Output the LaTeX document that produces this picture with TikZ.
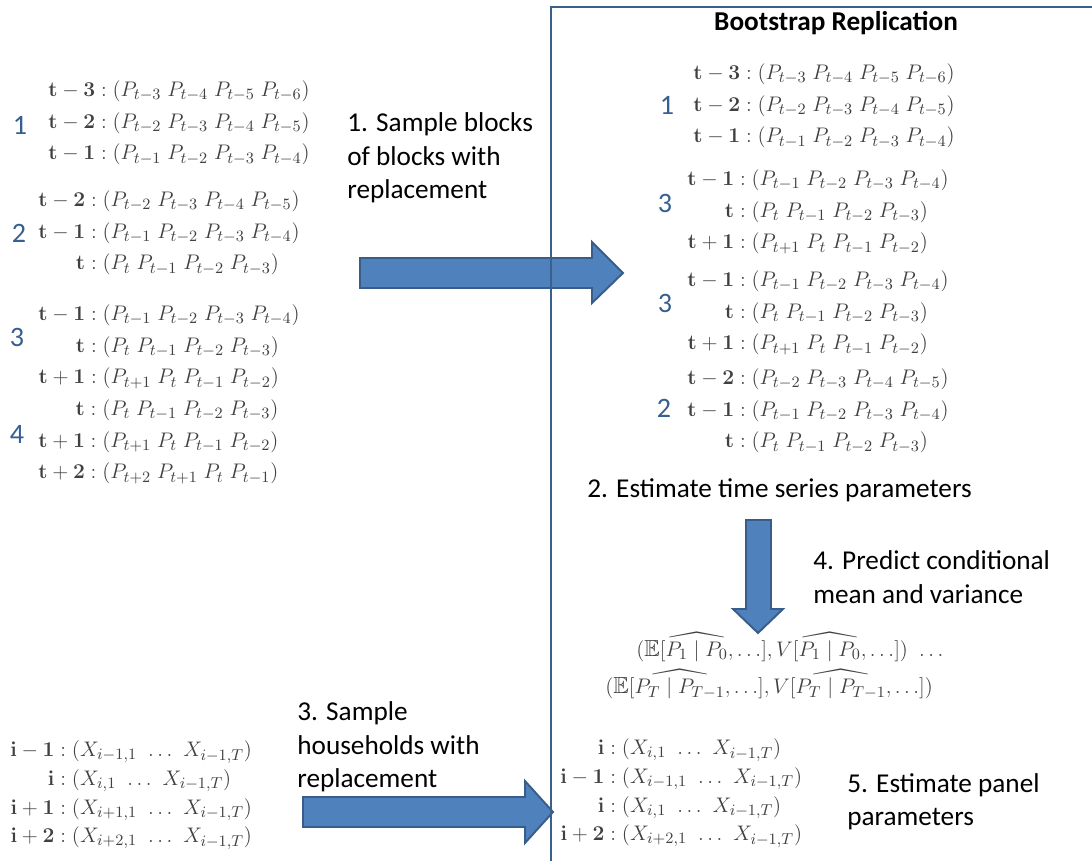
\documentclass[tikz,border=0pt]{standalone}
\usepackage{amsmath,amssymb}
\usepackage[no-math]{fontspec}
\newfontfamily\calibri{Carlito}
\definecolor{numblue}{RGB}{54,95,145}
\definecolor{arrowfill}{RGB}{79,129,189}
\definecolor{arrowline}{RGB}{56,93,138}
\definecolor{boxline}{RGB}{60,96,140}

\begin{document}
\begin{tikzpicture}[x=0.02cm, y=-0.02cm]
            \tikzstyle{steptext} = [font=\calibri\fontsize{15.5}{19}\selectfont, anchor=west, align=left, inner sep=0pt]
            \tikzstyle{blocknum} = [font=\calibri\fontsize{16}{19}\selectfont, text=numblue, inner sep=0pt]
            \tikzstyle{rows} = [font=\fontsize{13.2}{18}\selectfont, text=black!75, anchor=west, inner sep=0pt]
            \tikzstyle{panelrows} = [rows, font=\fontsize{13.2}{16.3}\selectfont]
            \tikzstyle{blockarrow} = [fill=arrowfill, draw=arrowline, line width=1.1pt, line join=miter]
            \useasboundingbox (0,0) rectangle (1092,861);

            % original time series blocks
            \node[rows] (lagsA) at (48,122) {$\begin{array}{@{}r@{\;:\;}l@{}}
                \mathbf{t-3} & (P_{t-3}\; P_{t-4}\; P_{t-5}\; P_{t-6}) \\
                \mathbf{t-2} & (P_{t-2}\; P_{t-3}\; P_{t-4}\; P_{t-5}) \\
                \mathbf{t-1} & (P_{t-1}\; P_{t-2}\; P_{t-3}\; P_{t-4})
                \end{array}$};
            \node[rows] (lagsB) at (38,232) {$\begin{array}{@{}r@{\;:\;}l@{}}
                \mathbf{t-2} & (P_{t-2}\; P_{t-3}\; P_{t-4}\; P_{t-5}) \\
                \mathbf{t-1} & (P_{t-1}\; P_{t-2}\; P_{t-3}\; P_{t-4}) \\
                \mathbf{t} & (P_{t}\; P_{t-1}\; P_{t-2}\; P_{t-3})
                \end{array}$};
            \node[rows] (lagsC) at (38,346) {$\begin{array}{@{}r@{\;:\;}l@{}}
                \mathbf{t-1} & (P_{t-1}\; P_{t-2}\; P_{t-3}\; P_{t-4}) \\
                \mathbf{t} & (P_{t}\; P_{t-1}\; P_{t-2}\; P_{t-3}) \\
                \mathbf{t+1} & (P_{t+1}\; P_{t}\; P_{t-1}\; P_{t-2})
                \end{array}$};
            \node[rows] (lagsD) at (38,441) {$\begin{array}{@{}r@{\;:\;}l@{}}
                \mathbf{t} & (P_{t}\; P_{t-1}\; P_{t-2}\; P_{t-3}) \\
                \mathbf{t+1} & (P_{t+1}\; P_{t}\; P_{t-1}\; P_{t-2}) \\
                \mathbf{t+2} & (P_{t+2}\; P_{t+1}\; P_{t}\; P_{t-1})
                \end{array}$};
            \node[blocknum] (numA) at (20,125) {1};
            \node[blocknum] (numB) at (19,233) {2};
            \node[blocknum] (numC) at (17,337) {3};
            \node[blocknum] (numD) at (17,434) {4};

            % original households
            \node[panelrows] (hhLeft) at (10,794) {$\begin{array}{@{}r@{\;:\;}l@{}}
                \mathbf{i-1} & (X_{i-1,1}\ \ldots\ X_{i-1,T}) \\
                \mathbf{i} & (X_{i,1}\ \ldots\ X_{i-1,T}) \\
                \mathbf{i+1} & (X_{i+1,1}\ \ldots\ X_{i-1,T}) \\
                \mathbf{i+2} & (X_{i+2,1}\ \ldots\ X_{i-1,T})
                \end{array}$};

            % arrows
            \draw[blockarrow] (360,258) -- (592,258) -- (592,242) -- (623,273)
                -- (592,303) -- (592,288) -- (360,288) -- cycle;
            \draw[blockarrow] (303,797) -- (525,797) -- (525,781) -- (553,812)
                -- (525,843) -- (525,827) -- (303,827) -- cycle;
            \draw[blockarrow] (746,520) -- (771,520) -- (771,609) -- (783,609)
                -- (758,633) -- (733,609) -- (746,609) -- cycle;

            % replication frame
            \draw[boxline, line width=1.2pt] (1092,7) -- (551,7) -- (551,861);
            \node[font=\calibri\bfseries\fontsize{15.5}{19}\selectfont, inner sep=0pt] (title) at (836,23) {Bootstrap Replication};

            \node[rows] (repA) at (693,105) {$\begin{array}{@{}r@{\;:\;}l@{}}
                \mathbf{t-3} & (P_{t-3}\; P_{t-4}\; P_{t-5}\; P_{t-6}) \\
                \mathbf{t-2} & (P_{t-2}\; P_{t-3}\; P_{t-4}\; P_{t-5}) \\
                \mathbf{t-1} & (P_{t-1}\; P_{t-2}\; P_{t-3}\; P_{t-4})
                \end{array}$};
            \node[rows] (repB) at (687,211) {$\begin{array}{@{}r@{\;:\;}l@{}}
                \mathbf{t-1} & (P_{t-1}\; P_{t-2}\; P_{t-3}\; P_{t-4}) \\
                \mathbf{t} & (P_{t}\; P_{t-1}\; P_{t-2}\; P_{t-3}) \\
                \mathbf{t+1} & (P_{t+1}\; P_{t}\; P_{t-1}\; P_{t-2})
                \end{array}$};
            \node[rows] (repC) at (687,312) {$\begin{array}{@{}r@{\;:\;}l@{}}
                \mathbf{t-1} & (P_{t-1}\; P_{t-2}\; P_{t-3}\; P_{t-4}) \\
                \mathbf{t} & (P_{t}\; P_{t-1}\; P_{t-2}\; P_{t-3}) \\
                \mathbf{t+1} & (P_{t+1}\; P_{t}\; P_{t-1}\; P_{t-2})
                \end{array}$};
            \node[rows] (repD) at (687,410) {$\begin{array}{@{}r@{\;:\;}l@{}}
                \mathbf{t-2} & (P_{t-2}\; P_{t-3}\; P_{t-4}\; P_{t-5}) \\
                \mathbf{t-1} & (P_{t-1}\; P_{t-2}\; P_{t-3}\; P_{t-4}) \\
                \mathbf{t} & (P_{t}\; P_{t-1}\; P_{t-2}\; P_{t-3})
                \end{array}$};
            \node[blocknum] (repnumA) at (667,105) {1};
            \node[blocknum] (repnumB) at (665,203) {3};
            \node[blocknum] (repnumC) at (665,303) {3};
            \node[blocknum] (repnumD) at (664,408) {2};

            \node[rows] (condA) at (636,647) {$(\mathbb{E}[\widehat{P_1 \mid P_0}, \ldots], V[\widehat{P_1 \mid P_0}, \ldots])\ \ldots$};
            \node[rows] (condB) at (605,684) {$(\mathbb{E}[\widehat{P_T \mid P_{T-1}}, \ldots], V[\widehat{P_T \mid P_{T-1}}, \ldots])$};

            \node[panelrows] (hhRight) at (560,792) {$\begin{array}{@{}r@{\;:\;}l@{}}
                \mathbf{i} & (X_{i,1}\ \ldots\ X_{i-1,T}) \\
                \mathbf{i-1} & (X_{i-1,1}\ \ldots\ X_{i-1,T}) \\
                \mathbf{i} & (X_{i,1}\ \ldots\ X_{i-1,T}) \\
                \mathbf{i+2} & (X_{i+2,1}\ \ldots\ X_{i-1,T})
                \end{array}$};

            % steps
            \node[steptext] (stepA) at (347,158) {1. Sample blocks\\of blocks with\\replacement};
            \node[steptext] (stepB) at (587,490) {2. Estimate time series parameters};
            \node[steptext] (stepC) at (297,747) {3. Sample\\households with\\replacement};
            \node[steptext] (stepD) at (813,577) {4. Predict conditional\\mean and variance};
            \node[steptext] (stepE) at (847,802) {5. Estimate panel\\parameters};
        \end{tikzpicture}
\end{document}
